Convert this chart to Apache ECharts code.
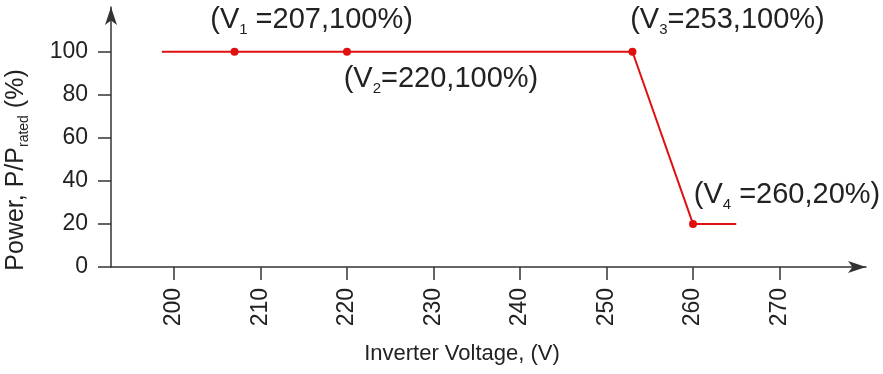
<!DOCTYPE html>
<html>
<head>
<meta charset="utf-8">
<script src="https://cdn.jsdelivr.net/npm/echarts@6/dist/echarts.min.js"></script>
<style>
  html, body { margin: 0; padding: 0; background: #fff; }
  #chart { width: 883px; height: 374px; }
</style>
</head>
<body>
<div id="chart"></div>
<script>
// curve points (inverter voltage -> power %)
var voltage = [198.6, 207, 220, 253, 260, 265]
var power = [100, 100, 100, 100, 20, 20]
// which points are the named V1..V4 breakpoints
var pointIndex = ['', '1', '2', '3', '4', '']
var xTicks = [200, 210, 220, 230, 240, 250, 260, 270]
var yTicks = [0, 20, 40, 60, 80, 100]

var font = "'Liberation Sans', Arial, sans-serif"
var axisColor = '#333'
var lineColor = '#e01010'

// where each breakpoint label sits relative to its dot
var labelOffsets = {
  '1': [77, -32],
  '2': [94, 27],
  '3': [95, -32],
  '4': [94, -29]
}
var labelGap = { '1': ' ', '2': '', '3': '', '4': ' ' }

var seriesData = voltage.map(function (v, i) {
  var n = pointIndex[i]
  var item = { value: [v, power[i]] }
  if (!n) {
    item.symbol = 'none'
    return item
  }
  item.label = {
    show: true,
    position: 'inside',
    offset: labelOffsets[n],
    formatter: '(V{s|' + n + '}' + labelGap[n] + '=' + v + ',' + power[i] + '%)'
  }
  return item
})

var chart = echarts.init(document.getElementById('chart'), null, { renderer: 'canvas' })

chart.setOption({
  backgroundColor: '#fff',
  animation: false,
  grid: {
    left: 111,
    right: 17,
    top: 7,
    bottom: 107,
    containLabel: false,
    outerBoundsMode: 'none'
  },
  xAxis: {
    type: 'value',
    min: 192.72,
    max: 280,
    name: 'Inverter Voltage, (V)',
    nameLocation: 'middle',
    nameGap: 76,
    nameTextStyle: {
      fontFamily: font,
      fontSize: 22,
      color: '#222',
      padding: [0, 53, 0, 0]
    },
    axisLine: {
      onZero: false,
      symbol: ['none', 'arrow'],
      symbolSize: [9, 18],
      lineStyle: { color: axisColor, width: 1.5 }
    },
    axisTick: {
      show: true,
      length: 13,
      customValues: xTicks,
      lineStyle: { color: axisColor, width: 1.5 }
    },
    axisLabel: {
      customValues: xTicks,
      rotate: 90,
      margin: 21,
      fontFamily: font,
      fontSize: 23,
      color: '#222'
    },
    splitLine: { show: false }
  },
  yAxis: {
    type: 'value',
    min: 0,
    max: 120.8,
    name: 'Power, P/P{s|rated} (%)',
    nameLocation: 'middle',
    nameRotate: 90,
    nameGap: 80,
    nameTextStyle: {
      fontFamily: font,
      fontSize: 25,
      lineHeight: 30,
      color: '#222',
      padding: [0, 66, 0, 0],
      rich: {
        s: {
          fontFamily: font,
          fontSize: 14,
          lineHeight: 8,
          color: '#222',
          verticalAlign: 'bottom'
        }
      }
    },
    axisLine: {
      onZero: false,
      symbol: ['none', 'arrow'],
      symbolSize: [9, 18],
      lineStyle: { color: axisColor, width: 1.5 }
    },
    axisTick: {
      show: true,
      length: 13,
      customValues: yTicks,
      lineStyle: { color: axisColor, width: 1.5 }
    },
    axisLabel: {
      customValues: yTicks,
      margin: 23,
      fontFamily: font,
      fontSize: 23,
      color: '#222'
    },
    splitLine: { show: false }
  },
  series: [{
    type: 'line',
    data: seriesData,
    symbol: 'circle',
    symbolSize: 8,
    showAllSymbol: true,
    lineStyle: { color: lineColor, width: 2 },
    itemStyle: { color: lineColor },
    label: {
      fontFamily: font,
      fontSize: 29,
      lineHeight: 35,
      color: '#222',
      align: 'center',
      verticalAlign: 'middle',
      rich: {
        s: {
          fontFamily: font,
          fontSize: 15,
          lineHeight: 8,
          color: '#222',
          verticalAlign: 'bottom'
        }
      }
    },
    emphasis: { disabled: true }
  }]
})
</script>
</body>
</html>
